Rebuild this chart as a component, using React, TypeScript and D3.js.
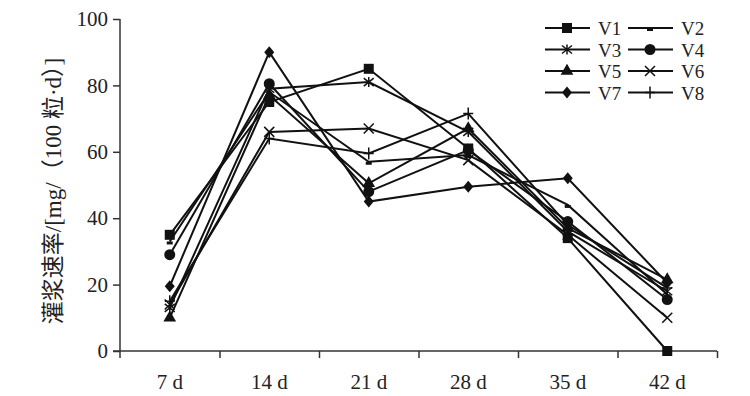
import { useEffect, useRef } from 'react';
import * as d3 from 'd3';

const categories = ['7 d', '14 d', '21 d', '28 d', '35 d', '42 d'];
const yTicks = [0, 20, 40, 60, 80, 100];

const v1 = [35, 75, 85, 61, 34, 0];
const v2 = [33, 78, 57, 59, 44, 17];
const v3 = [13, 79, 81, 66, 36, 18];
const v4 = [29, 80.5, 48, 60.5, 39, 15.5];
const v5 = [10, 77, 50.5, 67, 37, 21.5];
const v6 = [14, 66, 67, 57.5, 35, 10];
const v7 = [19.5, 90, 45, 49.5, 52, 20.5];
const v8 = [15, 64, 59.5, 71.5, 38, 19];

const seriesNames = ['V1', 'V2', 'V3', 'V4', 'V5', 'V6', 'V7', 'V8'];
const seriesValues = [v1, v2, v3, v4, v5, v6, v7, v8];
const markers = ['square', 'dash', 'star', 'circle', 'triangle', 'cross', 'diamond', 'plus'];

const ink = '#111';
const font = '"Liberation Serif", "Noto Sans CJK SC", serif';

// draws one marker centred at (x, y)
function drawMarker(g: any, type: string, x: number, y: number) {
    if (type === 'square') {
        g.append('rect').attr('x', x - 5).attr('y', y - 5).attr('width', 10).attr('height', 10).attr('fill', ink);
    } else if (type === 'circle') {
        g.append('circle').attr('cx', x).attr('cy', y).attr('r', 5.5).attr('fill', ink);
    } else if (type === 'triangle') {
        g.append('path').attr('d', d3.symbol(d3.symbolTriangle, 70)()).attr('transform', `translate(${x},${y})`).attr('fill', ink);
    } else if (type === 'diamond') {
        g.append('path').attr('d', `M${x},${y - 6}L${x + 5},${y}L${x},${y + 6}L${x - 5},${y}Z`).attr('fill', ink);
    } else if (type === 'dash') {
        g.append('rect').attr('x', x - 3).attr('y', y).attr('width', 6).attr('height', 3).attr('fill', ink);
    } else if (type === 'cross') {
        g.append('path').attr('d', `M${x - 5},${y - 5}L${x + 5},${y + 5}M${x - 5},${y + 5}L${x + 5},${y - 5}`)
            .attr('stroke', ink).attr('stroke-width', 1.5);
    } else if (type === 'plus') {
        g.append('path').attr('d', `M${x},${y - 6}L${x},${y + 6}M${x - 5},${y}L${x + 5},${y}`)
            .attr('stroke', ink).attr('stroke-width', 1.5);
    } else if (type === 'star') {
        g.append('path').attr('d', `M${x - 5},${y - 4}L${x + 5},${y + 4}M${x - 5},${y + 4}L${x + 5},${y - 4}M${x},${y - 5}L${x},${y + 5}`)
            .attr('stroke', ink).attr('stroke-width', 1.5);
    }
}

const App = () => {
    const svgRef = useRef<SVGSVGElement | null>(null);

    useEffect(() => {
        const width = 750;
        const height = 396;
        const left = 120, right = 717, top = 19, bottom = 351;

        const svg = d3.select(svgRef.current).attr('width', width).attr('height', height);
        svg.selectAll('*').remove();

        const x = d3.scaleBand().domain(categories).range([left, right]);
        const xEdge = d3.scaleLinear().domain([0, categories.length]).range([left, right]);
        const y = d3.scaleLinear().domain([0, 100]).range([bottom, top]);

        // axes
        const yAxis = svg.append('g').attr('transform', `translate(${left},0)`)
            .call(d3.axisLeft(y).tickValues(yTicks).tickSize(7).tickSizeOuter(0).tickPadding(5));
        yAxis.select('.domain').remove();
        yAxis.selectAll('line').attr('stroke', '#333').attr('stroke-width', 1.5);
        yAxis.selectAll('text').style('font-family', font).style('font-size', '21px').attr('fill', '#222');
        svg.append('line').attr('x1', left).attr('x2', left).attr('y1', top).attr('y2', bottom + 7)
            .attr('stroke', '#333').attr('stroke-width', 1.5);

        const xAxis = svg.append('g').attr('transform', `translate(0,${bottom})`)
            .call(d3.axisBottom(xEdge).tickValues(d3.range(1, categories.length + 1)).tickSize(7).tickSizeOuter(0).tickFormat(() => ''));
        xAxis.select('.domain').remove();
        xAxis.selectAll('line').attr('stroke', '#333').attr('stroke-width', 1.5);
        svg.append('line').attr('x1', left - 7).attr('x2', right).attr('y1', bottom).attr('y2', bottom)
            .attr('stroke', '#333').attr('stroke-width', 1.5);

        svg.append('g').selectAll('text')
            .data(categories)
            .enter()
            .append('text')
            .attr('x', d => (x(d) as number) + x.bandwidth() / 2)
            .attr('y', 389)
            .attr('text-anchor', 'middle')
            .style('font-family', font)
            .style('font-size', '21px')
            .attr('fill', '#222')
            .text(d => d);

        // y axis title
        svg.append('text')
            .attr('transform', `translate(61,191) rotate(-90)`)
            .attr('text-anchor', 'middle')
            .style('font-family', font)
            .style('font-size', '23px')
            .attr('fill', '#222')
            .text('灌浆速率/[mg/（100 粒·d）]');

        // series
        const line = d3.line<number>()
            .x((_, i) => (x(categories[i]) as number) + x.bandwidth() / 2)
            .y(d => y(d));

        const plot = svg.append('g');
        seriesValues.forEach((vals) => {
            plot.append('path')
                .attr('d', line(vals))
                .attr('fill', 'none')
                .attr('stroke', ink)
                .attr('stroke-width', 2);
        });
        seriesValues.forEach((vals, si) => {
            vals.forEach((v, i) => {
                drawMarker(plot, markers[si], (x(categories[i]) as number) + x.bandwidth() / 2, y(v));
            });
        });

        // legend, two columns
        const legend = svg.append('g');
        seriesNames.forEach((name, i) => {
            const col = i % 2;
            const row = Math.floor(i / 2);
            const lx = 545 + col * 83;
            const ly = 28 + row * 21.5;
            legend.append('line').attr('x1', lx).attr('x2', lx + 45).attr('y1', ly).attr('y2', ly)
                .attr('stroke', ink).attr('stroke-width', 2);
            drawMarker(legend, markers[i], lx + 22, ly);
            legend.append('text')
                .attr('x', lx + 53)
                .attr('y', ly + 7)
                .style('font-family', font)
                .style('font-size', '19px')
                .attr('fill', '#222')
                .text(name);
        });
    }, []);

    return <svg ref={svgRef} style={{ position: 'absolute', left: 0, top: 0 }} />;
};

export default App;
